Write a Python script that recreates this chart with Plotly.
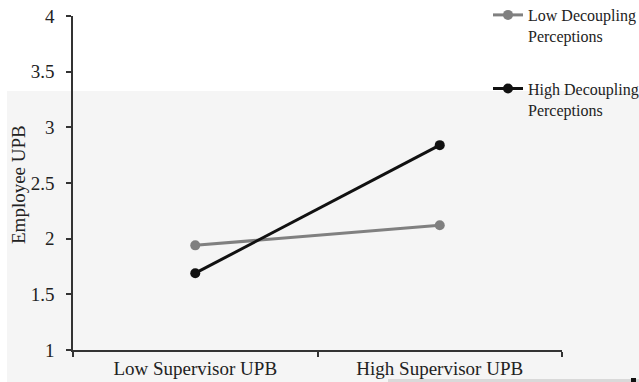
import plotly.graph_objects as go

categories = ["Low Supervisor UPB", "High Supervisor UPB"]
low_decoupling = [1.94, 2.12]
high_decoupling = [1.69, 2.84]
series_names = ["Low Decoupling<br>Perceptions", "High Decoupling<br>Perceptions"]
y_ticks = [1, 1.5, 2, 2.5, 3, 3.5, 4]
y_ticklabels = ["1", "1.5", "2", "2.5", "3", "3.5", "4"]

W, H = 639, 382
L, R, T, B = 73, 77, 16, 32
pw, ph = W - L - R, H - T - B

def px_x(p):
    return (p - L) / pw

def px_y(p):
    return (H - B - p) / ph

FONT = "Liberation Serif"

fig = go.Figure()
fig.add_trace(go.Scatter(
    x=categories, y=low_decoupling, name=series_names[0], mode="lines+markers",
    line=dict(color="#808080", width=3), marker=dict(color="#808080", size=10),
    legendgroup="a"))
fig.add_trace(go.Scatter(
    x=categories, y=high_decoupling, name=series_names[1], mode="lines+markers",
    line=dict(color="#111111", width=3), marker=dict(color="#111111", size=10),
    legendgroup="b"))

shapes = [
    dict(type="rect", xref="paper", yref="paper", x0=px_x(7), x1=px_x(W + 5),
         y0=px_y(H + 5), y1=px_y(91), fillcolor="#f5f5f5", line=dict(width=0), layer="below"),
    dict(type="rect", xref="paper", yref="paper", x0=px_x(388), x1=px_x(W + 5),
         y0=px_y(H + 5), y1=px_y(379), fillcolor="#d9d9d9", line=dict(width=0), layer="below"),
    dict(type="rect", xref="paper", yref="paper", x0=px_x(631), x1=px_x(636),
         y0=px_y(H + 5), y1=px_y(378), fillcolor="#111111", line=dict(width=0), layer="below"),
]

fig.update_layout(
    width=W, height=H,
    margin=dict(l=L, r=R, t=T, b=B, autoexpand=False),
    paper_bgcolor="white", plot_bgcolor="rgba(0,0,0,0)",
    font=dict(family=FONT, size=18, color="#222222"),
    shapes=shapes,
    showlegend=True,
    legend=dict(x=px_x(488), y=px_y(-2), xanchor="left", yanchor="top",
                bgcolor="rgba(0,0,0,0)", font=dict(family=FONT, size=16, color="#222"),
                tracegroupgap=29, valign="top", itemwidth=30),
    xaxis=dict(type="category", range=[-0.5, 1.5], tickson="boundaries",
               showline=True, linecolor="#333333", linewidth=1.5,
               ticks="outside", ticklen=5, tickcolor="#333333", tickwidth=1.5,
               showgrid=False, zeroline=False,
               tickfont=dict(family=FONT, size=19, color="#222")),
    yaxis=dict(range=[1, 4], tickvals=y_ticks, ticktext=y_ticklabels,
               showline=True, linecolor="#333333", linewidth=1.5,
               ticks="outside", ticklen=5, tickcolor="#333333", tickwidth=1.5,
               showgrid=False, zeroline=False, ticklabelstandoff=8,
               tickfont=dict(family=FONT, size=19, color="#222")),
    annotations=[dict(text="Employee UPB", x=px_x(19), y=px_y(185), xref="paper", yref="paper",
                      xanchor="center", yanchor="middle",
                      showarrow=False, textangle=-90,
                      font=dict(family=FONT, size=19, color="#222"))],
)

fig.write_html("out.html")
